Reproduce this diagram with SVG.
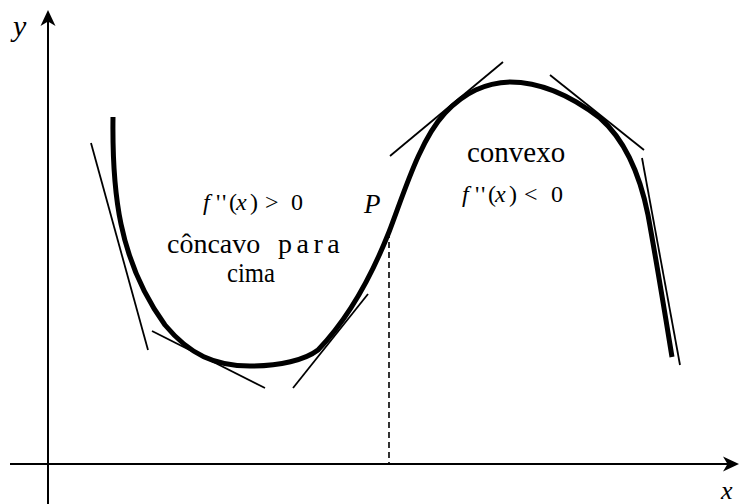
<svg xmlns="http://www.w3.org/2000/svg" width="740" height="504" viewBox="0 0 740 504" font-family="'Liberation Serif', 'Times New Roman', serif">
<style>
.axis{stroke:#000;stroke-width:2;fill:none}
.tan{stroke:#000;stroke-width:1.8;fill:none;stroke-linecap:butt}
.curve{stroke:#000;stroke-width:5;fill:none;stroke-linejoin:round}
text{font-family:'Liberation Serif','Times New Roman',serif;fill:#000}
.i{font-style:italic}
</style>
<rect width="740" height="504" fill="#fff"/>
<g id="axes">
<line class="axis" x1="48" y1="504" x2="48" y2="18"/>
<path d="M48,10 L55.5,26 L48,21.5 L40.5,26 Z" fill="#000"/>
<line class="axis" x1="10" y1="464" x2="732" y2="464"/>
<path d="M739,464 L723,456.5 L727.5,464 L723,471.5 Z" fill="#000"/>
<text class="i" x="13" y="36" font-size="30">y</text>
<text class="i" x="721" y="499" font-size="26">x</text>
</g>
<g id="connectors">
<line x1="389" y1="232" x2="389" y2="464" stroke="#000" stroke-width="1.6" stroke-dasharray="6,4"/>
<line class="tan" x1="91" y1="143" x2="148" y2="350"/>
<line class="tan" x1="152" y1="331" x2="265" y2="388"/>
<line class="tan" x1="293" y1="388" x2="368" y2="294"/>
<line class="tan" x1="390" y1="156" x2="503" y2="62"/>
<line class="tan" x1="550" y1="75" x2="644" y2="150"/>
<line class="tan" x1="642" y1="158" x2="680" y2="365"/>
</g>
<g id="curve">
<path class="curve" d="M113,117 C112,190 118,260 165,325 C190,355 215,366 250,366 C280,366 305,360 318,350 C345,322 370,280 389,232 C405,190 420,140 445,113 C465,92 485,83 510,82 C540,82 570,95 600,118 C625,140 640,175 648,215 C658,270 666,320 672,357"/>
</g>
<g id="concave">
<text y="210" font-size="24"><tspan class="i" x="203">f</tspan><tspan x="216">'</tspan><tspan x="222">'</tspan><tspan x="229">(</tspan><tspan class="i" x="236">x</tspan><tspan x="250">)</tspan><tspan x="265">&gt;</tspan><tspan x="291">0</tspan></text>
<text x="167" y="253" font-size="28">côncavo</text>
<text x="278" y="253" font-size="28" letter-spacing="4.5">para</text>
<text x="227" y="282" font-size="28" textLength="48" lengthAdjust="spacingAndGlyphs">cima</text>
</g>
<g id="P">
<text class="i" x="364" y="213" font-size="27">P</text>
</g>
<g id="convex">
<text x="467" y="162" font-size="29">convexo</text>
<text y="202" font-size="24"><tspan class="i" x="462">f</tspan><tspan x="475">'</tspan><tspan x="481">'</tspan><tspan x="488">(</tspan><tspan class="i" x="495">x</tspan><tspan x="509">)</tspan><tspan x="524">&lt;</tspan><tspan x="551">0</tspan></text>
</g>
</svg>
